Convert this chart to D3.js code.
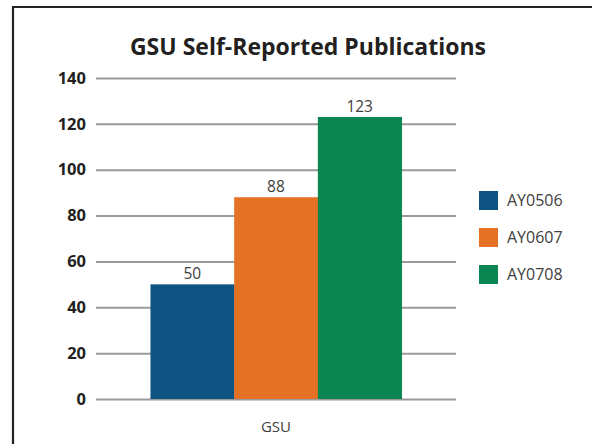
<!DOCTYPE html>
<html>
<head>
<meta charset="utf-8">
<script src="https://cdn.jsdelivr.net/npm/d3@7"></script>
<style>
  body { margin: 0; background: #fff; }
  svg { display: block; font-family: "Open Sans", "DejaVu Sans", sans-serif; }
</style>
</head>
<body>
<div id="chart"></div>
<script>
// Chart data
let categories = ["GSU"];
let seriesNames = ["AY0506", "AY0607", "AY0708"];
let seriesValues = [50, 88, 123];
let yTicks = [0, 20, 40, 60, 80, 100, 120, 140];
let colors = ["#0f5383", "#e57125", "#098651"];

let svgWidth = 592;
let svgHeight = 444;

let margin = { top: 78, right: 136, bottom: 45, left: 96 };
let width = svgWidth - margin.left - margin.right;   // 360
let height = svgHeight - margin.top - margin.bottom; // 321

let svg = d3.select("#chart")
  .append("svg")
  .attr("width", svgWidth)
  .attr("height", svgHeight);

// frame (left and top edges visible)
svg.append("path")
  .attr("d", `M13,${svgHeight} L13,7 L${svgWidth},7`)
  .attr("fill", "none")
  .attr("stroke", "#222")
  .attr("stroke-width", 2.2);

// title
svg.append("text")
  .attr("x", 308)
  .attr("y", 55)
  .attr("text-anchor", "middle")
  .attr("font-size", 23)
  .attr("font-weight", "bold")
  .attr("fill", "#231f20")
  .text("GSU Self-Reported Publications");

let chartGroup = svg.append("g")
  .attr("transform", `translate(${margin.left}, ${margin.top})`);

let y = d3.scaleLinear().domain([0, 140]).range([height, 0]);

let x0 = d3.scaleBand().domain(categories).range([0, width]).paddingInner(0).paddingOuter(0.217);
let x1 = d3.scaleBand().domain(seriesNames).range([0, x0.bandwidth()]);

// gridlines + y labels
let yAxis = chartGroup.append("g")
  .call(d3.axisLeft(y).tickValues(yTicks).tickSize(-width).tickPadding(10));
yAxis.select(".domain").remove();
yAxis.selectAll(".tick line")
  .attr("stroke", "#9a9a9c")
  .attr("stroke-width", 2);
yAxis.selectAll(".tick text")
  .attr("font-size", 16.5)
  .attr("font-weight", "bold")
  .attr("fill", "#231f20")
  .attr("font-family", "'Open Sans', sans-serif");

// bars
let groups = chartGroup.selectAll(".cat")
  .data(categories)
  .enter()
  .append("g")
  .attr("transform", d => `translate(${x0(d)},0)`);

groups.selectAll("rect")
  .data(seriesNames.map((s, i) => ({ name: s, value: seriesValues[i], color: colors[i] })))
  .enter()
  .append("rect")
  .attr("x", d => x1(d.name))
  .attr("y", d => y(d.value))
  .attr("width", x1.bandwidth() + 0.5)
  .attr("height", d => height - y(d.value))
  .attr("fill", d => d.color);

groups.selectAll(".val")
  .data(seriesNames.map((s, i) => ({ name: s, value: seriesValues[i] })))
  .enter()
  .append("text")
  .attr("x", d => x1(d.name) + x1.bandwidth() / 2)
  .attr("y", d => y(d.value) - 5)
  .attr("text-anchor", "middle")
  .attr("font-size", 15.5)
  .attr("fill", "#404040")
  .text(d => d.value);

// x category label
chartGroup.selectAll(".xlab")
  .data(categories)
  .enter()
  .append("text")
  .attr("x", d => x0(d) + x0.bandwidth() / 2)
  .attr("y", height + 33)
  .attr("text-anchor", "middle")
  .attr("font-size", 15)
  .attr("fill", "#404040")
  .text(d => d);

// legend
let legend = svg.append("g")
  .attr("transform", "translate(479, 191)");

let items = legend.selectAll("g")
  .data(seriesNames)
  .enter()
  .append("g")
  .attr("transform", (d, i) => `translate(0, ${i * 37})`);

items.append("rect")
  .attr("width", 19)
  .attr("height", 19)
  .attr("fill", (d, i) => colors[i]);

items.append("text")
  .attr("x", 28)
  .attr("y", 15)
  .attr("font-size", 16)
  .attr("fill", "#404040")
  .text(d => d);
</script>
</body>
</html>
